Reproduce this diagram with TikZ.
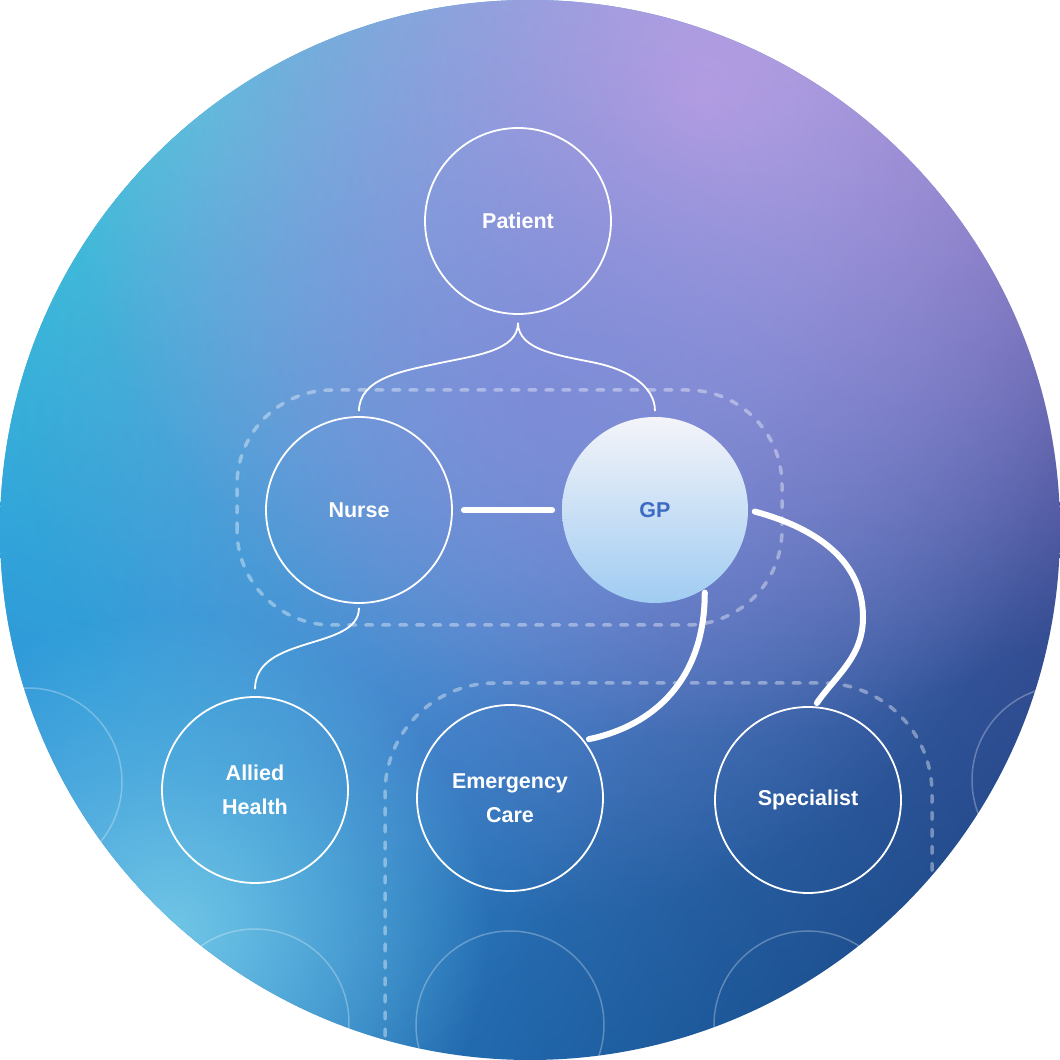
\documentclass[tikz,border=0pt]{standalone}
\usepackage{fontspec}
\setmainfont{Liberation Sans}
\usepackage{tikz}
\usetikzlibrary{fadings,shadings}
\definecolor{hcSkyTL}{HTML}{38ACDC}
\definecolor{hcPlumTR}{HTML}{6A62B8}
\definecolor{hcBlueBL}{HTML}{2E8CD8}
\definecolor{hcNavy}{HTML}{123E7A}
\definecolor{hcTeal}{HTML}{40CADB}
\definecolor{hcLilac}{HTML}{C6A4E6}
\definecolor{hcIris}{HTML}{7E88D8}
\definecolor{hcIce}{HTML}{70C6E6}
\definecolor{hcAzure}{HTML}{2C92DA}
\definecolor{gpTop}{HTML}{F4F4F9}
\definecolor{gpBottom}{HTML}{A0CCF2}
\definecolor{gpText}{HTML}{3D6BC4}
\tikzfading[name=glow, inner color=transparent!0, outer color=transparent!100]

\begin{document}
\begin{tikzpicture}[x=1pt, y=1pt,
  member/.style={circle, draw=white, line width=1.8pt, minimum size=186pt, inner sep=0pt,
    text=white, align=center, font=\bfseries\fontsize{21.5}{34}\selectfont},
  ghost/.style={draw=white, draw opacity=0.28, line width=1.5pt},
  teamBox/.style={draw=white, draw opacity=0.38, line width=3.5pt, line cap=round,
    dash pattern=on 7pt off 10pt},
  link/.style={draw=white, line width=1.8pt},
  strongLink/.style={draw=white, line width=6pt, line cap=round}]
  \useasboundingbox (0,0) rectangle (1060,1060);
  \fill[white] (0,0) rectangle (1060,1060);
  % backdrop
  \begin{scope}
    \clip (530,530) circle (530);
    \shade[upper left=hcSkyTL, upper right=hcPlumTR, lower left=hcBlueBL, lower right=hcNavy]
      (0,0) rectangle (1060,1060);
    \fill[hcAzure, path fading=glow] (60,500) circle (620);
    \fill[hcTeal, path fading=glow] (200,950) circle (680);
    \fill[hcLilac, path fading=glow] (700,960) circle (640);
    \fill[hcIris, path fading=glow, fill opacity=0.8] (540,660) circle (520);
    \fill[hcIce, path fading=glow] (170,130) circle (320);
    \foreach \x/\y in {28/278, 1066/280, 255/37, 510/35, 808/35} {
      \draw[ghost] (\x,\y) circle (94);
    }
    \draw[teamBox, rounded corners=95pt] (237,435) rectangle (782,670);
    \draw[teamBox, rounded corners=110pt] (385,-120) rectangle (932,377);
  \end{scope}

  \node[member] (patient) at (518,839) {Patient};
  \node[member] (nurse) at (359,550) {Nurse};
  \node[member, draw=none, top color=gpTop, bottom color=gpBottom, text=gpText] (gp) at (655,550) {GP};
  \node[member] (allied) at (255,270) {Allied\\Health};
  \node[member] (emerg) at (510,262) {Emergency\\Care};
  \node[member] (spec) at (808,260) {Specialist};

  \coordinate (forkL) at (440,697);
  \coordinate (forkR) at (596,697);
  \coordinate (bend) at (863,443);

  \draw[link, shorten <=8pt, shorten >=5pt] (patient.south) to[out=-90, in=12] (forkL)
    to[out=192, in=90] (nurse.north);
  \draw[link, shorten <=8pt, shorten >=5pt] (patient.south) to[out=-90, in=168] (forkR)
    to[out=-12, in=90] (gp.north);
  \draw[link, shorten <=4pt, shorten >=7pt] (nurse.south) .. controls +(0,-47) and +(0,62) .. (allied.north);
  \draw[strongLink, shorten <=11pt, shorten >=9pt] (nurse) -- (gp);
  \draw[strongLink, shorten <=3pt, shorten >=5pt] (gp.-58) .. controls +(0,-88) and +(72,15) .. (emerg.38);
  \draw[strongLink, shorten <=6pt, shorten >=4pt] (gp.east) to[out=-15, in=90] (bend)
    to[out=-90, in=55] (spec.86);
\end{tikzpicture}
\end{document}
